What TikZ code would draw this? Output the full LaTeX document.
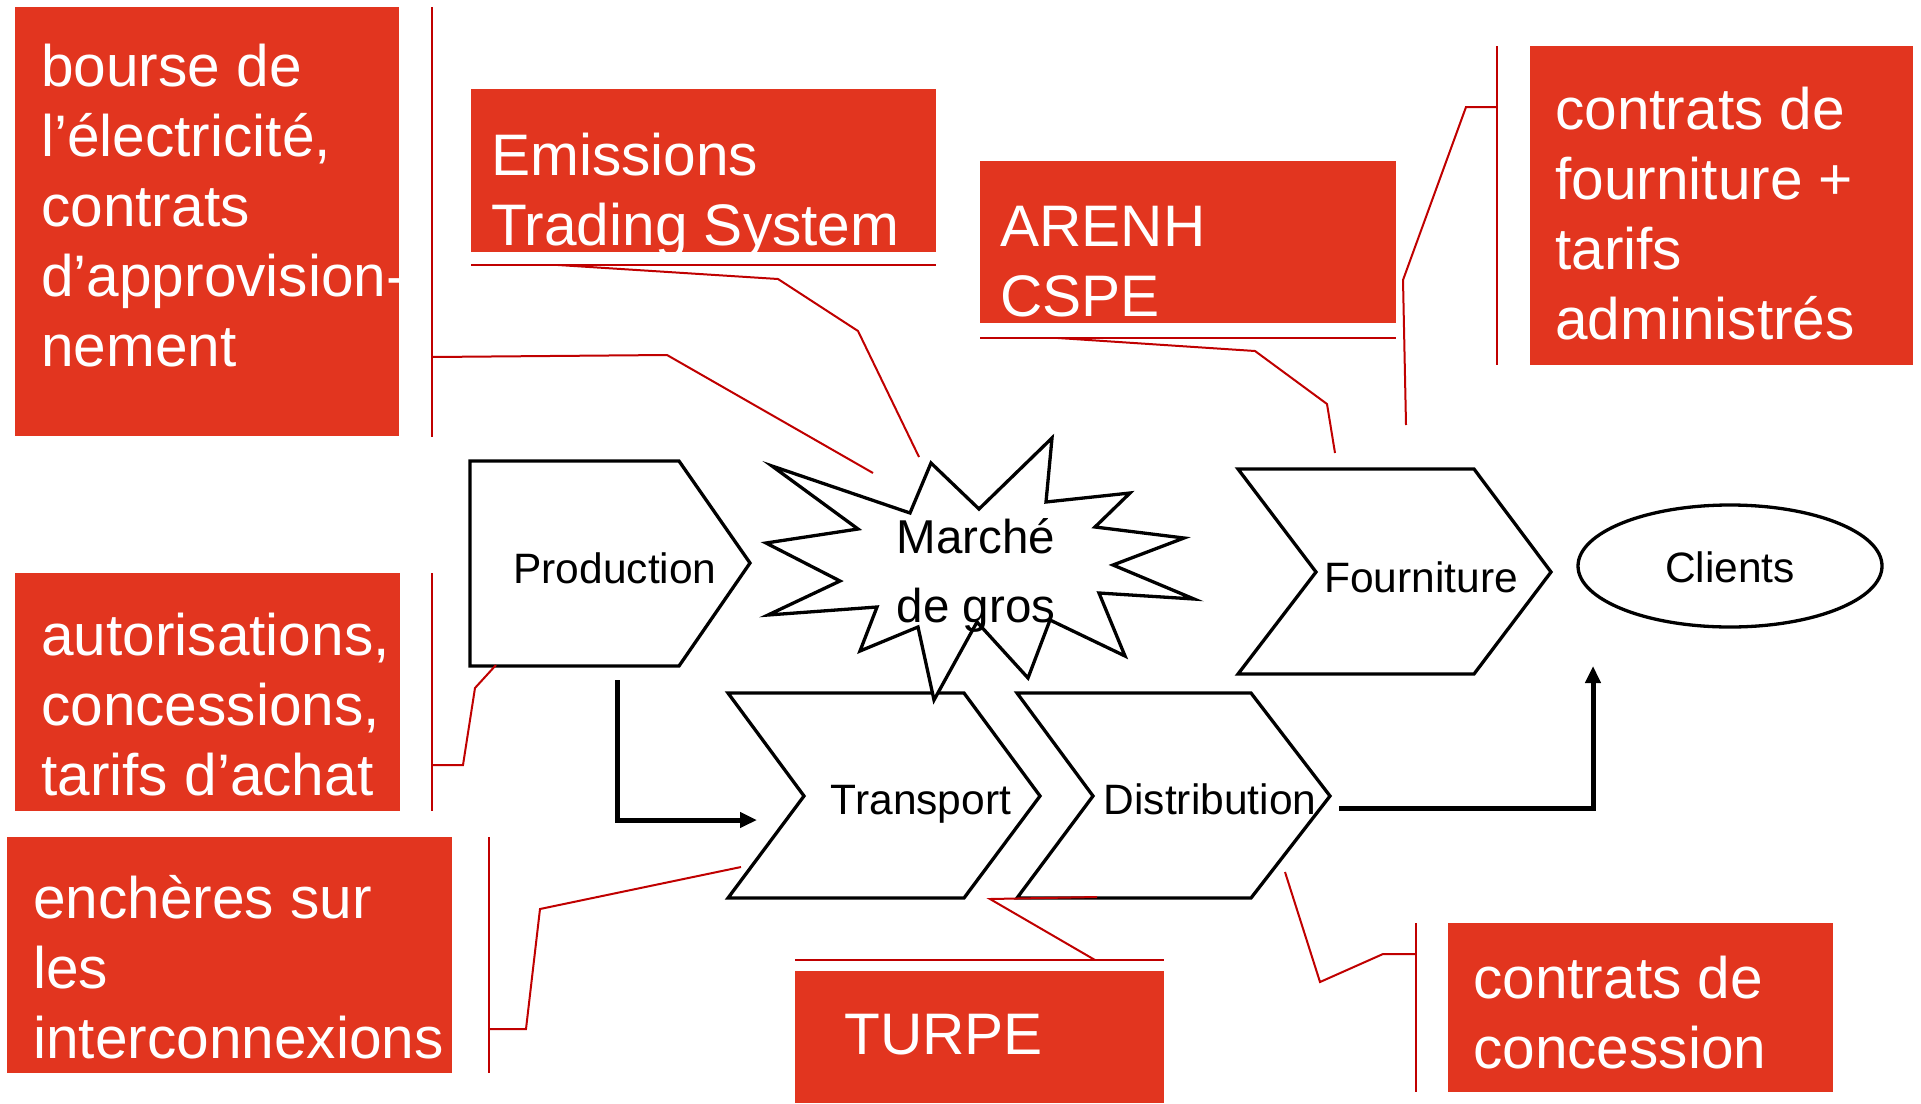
\documentclass[tikz,border=0pt]{standalone}
\usepackage{fontspec}
\setmainfont{Liberation Sans}
\usetikzlibrary{arrows.meta,shapes.geometric}
\definecolor{boxred}{RGB}{226,53,31}
\definecolor{linered}{RGB}{192,0,0}
\newcommand\leftlines[1]{\vtop{\halign{##\hfil\cr#1\crcr}}}
\newcommand\centerlines[1]{\vtop{\halign{\hfil##\hfil\cr#1\crcr}}}
\begin{document}
\begin{tikzpicture}[x=1pt,y=-1pt,
  redbox/.style={fill=boxred},
  boxtext/.style={text=white,anchor=base west,inner sep=0pt,font=\fontsize{58.6}{70}\selectfont},
  flowtext/.style={anchor=base,inner sep=0pt,font=\fontsize{42.5}{50}\selectfont},
  outline/.style={draw=black,line width=3.3pt,line join=miter,fill=white},
  callout/.style={draw=linered,line width=2pt},
  bar/.style={draw=linered,line width=2.5pt},
  flowarrow/.style={draw=black,line width=5pt,-{Triangle[length=17pt,width=15pt]}}]
\useasboundingbox (0,0) rectangle (1921,1103);
\fill[white] (0,0) rectangle (1921,1103);

% ---- red boxes
\fill[redbox] (15,7) rectangle (399,436);
\fill[redbox] (471,89) rectangle (936,252);
\fill[redbox] (980,161) rectangle (1396,323);
\fill[redbox] (1530,46) rectangle (1913,365);
\fill[redbox] (15,573) rectangle (400,811);
\fill[redbox] (7,837) rectangle (452,1073);
\fill[redbox] (795,971) rectangle (1164,1103);
\fill[redbox] (1448,923) rectangle (1833,1092);

% ---- bars of the callouts
\draw[bar] (432,7) -- (432,437);
\draw[bar] (471,265) -- (936,265);
\draw[bar] (980,338) -- (1396,338);
\draw[bar] (1497,46) -- (1497,365);
\draw[bar] (432,573) -- (432,811);
\draw[bar] (489,837) -- (489,1073);
\draw[bar] (795,960) -- (1164,960);
\draw[bar] (1416,923) -- (1416,1092);

% ---- box texts
\node[boxtext] (t1) at (41,86) {\leftlines{bourse de\cr l’électricité,\cr contrats\cr d’approvision-\cr nement}};
\node[boxtext] (t2) at (491,175) {\leftlines{Emissions\cr Trading System}};
\node[boxtext] (t3) at (1000,246) {\leftlines{ARENH\cr CSPE}};
\node[boxtext] (t4) at (1555,129) {\leftlines{contrats de\cr fourniture +\cr tarifs\cr administrés}};
\node[boxtext] (t5) at (41,655) {\leftlines{autorisations,\cr concessions,\cr tarifs d’achat}};
\node[boxtext] (t6) at (33,918) {\leftlines{enchères sur\cr les\cr interconnexions}};
\node[boxtext] (t7) at (844,1054) {TURPE};
\node[boxtext] (t8) at (1473,998) {\leftlines{contrats de\cr concession}};

% ---- flow shapes
\draw[outline] (470,461) -- (679,461) -- (750,563) -- (679,666) -- (470,666) -- cycle;
\draw[outline] (728,693) -- (964,693) -- (1040,796) -- (964,898) -- (728,898) -- (804,796) -- cycle;
\draw[outline] (1017,693) -- (1251,693) -- (1330,796) -- (1251,898) -- (1017,898) -- (1093,796) -- cycle;
\draw[outline] (1238,469) -- (1474,469) -- (1551,572) -- (1474,674) -- (1238,674) -- (1316,572) -- cycle;
\draw[outline] (772,466) -- (910,513) -- (931,463) -- (979,509) -- (1052,438) -- (1046,502)
  -- (1130,493) -- (1095,527) -- (1184,538) -- (1113,565) -- (1194,599) -- (1099,593)
  -- (1125,656) -- (1050,620) -- (1028,678) -- (977,622) -- (934,700) -- (918,627)
  -- (860,651) -- (877,607) -- (768,615) -- (840,581) -- (766,543) -- (858,529) -- cycle;
\node[ellipse,draw=black,line width=3.3pt,fill=white,minimum width=304pt,minimum height=122pt,inner sep=0pt] (clients) at (1730,566) {};

% ---- flow texts
\node[flowtext] (production) at (615,583) {Production};
\node[flowtext] (transport) at (921,814) {Transport};
\node[flowtext] (distribution) at (1210,814) {Distribution};
\node[flowtext] (fourniture) at (1421,592) {Fourniture};
\node[flowtext] (clientstext) at (1730,582) {Clients};
\node[inner sep=0pt,anchor=base,font=\fontsize{47.5}{69}\selectfont] (marche) at (976,553) {\centerlines{Marché\cr de gros}};

% ---- flow arrows
\coordinate (a1s) at (617,680);
\coordinate (a1e) at (757,820);
\coordinate (a2s) at (1339,808);
\coordinate (a2e) at (1593,666);
\draw[flowarrow] (a1s) |- (a1e);
\draw[flowarrow] (a2s) -| (a2e);

% ---- callout connectors
\draw[callout] (432,357) -- (667,355) -- (873,473);
\draw[callout] (558,265) -- (778,279) -- (858,331) -- (919,457);
\draw[callout] (1058,338) -- (1255,351) -- (1327,404) -- (1335,453);
\draw[callout] (1497,107) -- (1466,107) -- (1403,280) -- (1406,425);
\draw[callout] (432,765) -- (463,765) -- (475,688) -- (496,665);
\draw[callout] (489,1029) -- (526,1029) -- (540,909) -- (741,867);
\draw[callout] (1095,960) -- (990,899) -- (1097,897);
\draw[callout] (1416,954) -- (1383,954) -- (1320,982) -- (1285,872);
\end{tikzpicture}
\end{document}
